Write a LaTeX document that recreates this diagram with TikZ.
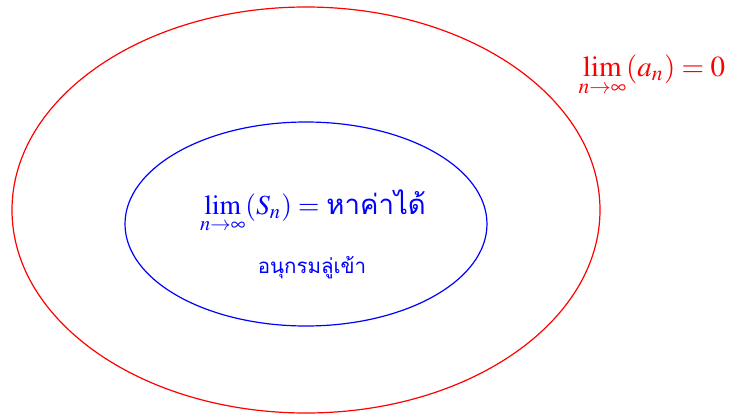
\documentclass[tikz,border=0pt]{standalone}
\usepackage{mathptmx}
\usepackage{fontspec}
\setmainfont{Liberation Serif}
\newfontfamily\thaifont[Script=Thai]{Loma}
\begin{document}
\begin{tikzpicture}[x=1pt,y=-1pt,
  outerell/.style={draw=red,line width=1.2pt},
  innerell/.style={draw=blue,line width=1.2pt},
  bigmath/.style={scale=2.9,transform shape,inner sep=0}]
\useasboundingbox (0,0) rectangle (734,415);
\draw[outerell] (306,210) ellipse [x radius=294, y radius=203];
\node[bigmath,text=red,anchor=base west] (lima) at (578,76)
  {$\displaystyle\lim_{n\to\infty}(a_n)=0$};
\draw[innerell] (306,224) ellipse [x radius=181, y radius=102];
\node[bigmath,scale=0.95,text=blue,anchor=base] (lims) at (313,214)
  {$\displaystyle\lim_{n\to\infty}(S_n)=$ {\thaifont หาค่าได้}};
\node[text=blue,font=\thaifont\fontsize{20.5}{24}\selectfont,anchor=base,inner sep=0] (conv) at (312,273) {อนุกรมลู่เข้า};
\end{tikzpicture}
\end{document}
